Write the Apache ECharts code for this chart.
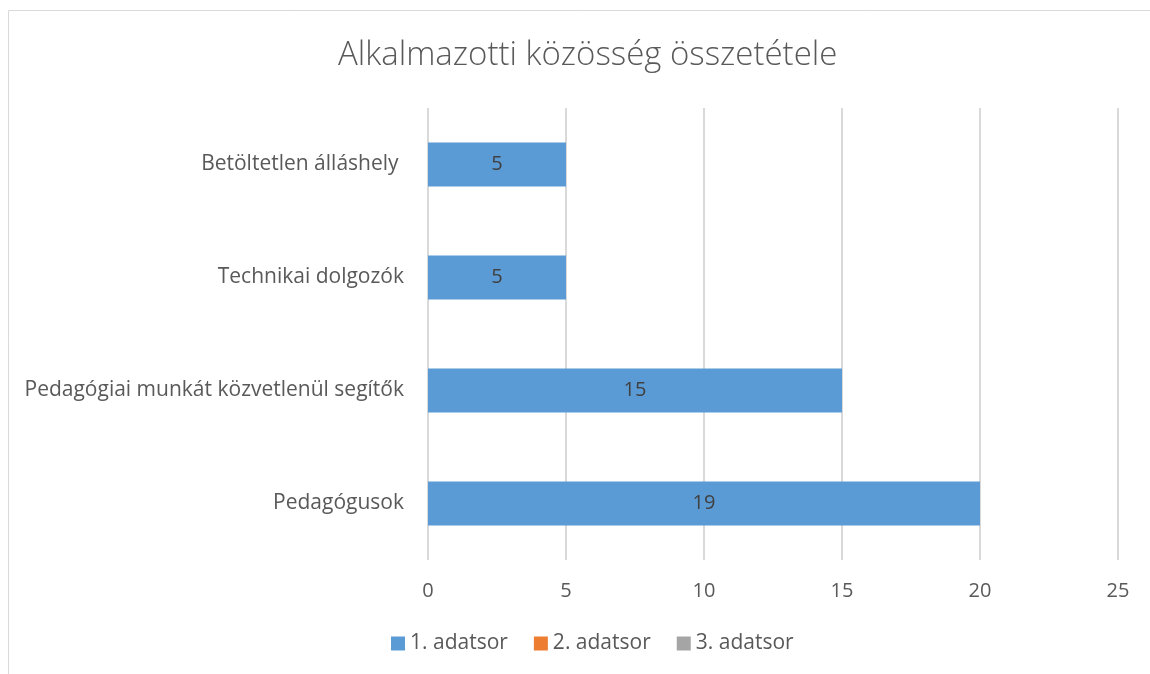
<!DOCTYPE html>
<html>
<head>
<meta charset="utf-8" />
<title>Alkalmazotti közösség összetétele</title>
<script src="https://cdn.jsdelivr.net/npm/echarts@6/dist/echarts.min.js"></script>
<style>
html, body { margin: 0; padding: 0; background: #fff; }
#chart { width: 1150px; height: 674px; }
</style>
</head>
<body>
<div id="chart"></div>
<script>
// categories listed bottom-to-top (category axis on y starts at bottom)
var categories = ['Pedagógusok', 'Pedagógiai munkát közvetlenül segítők', 'Technikai dolgozók', 'Betöltetlen álláshely '];
var values = [20, 15, 5, 5];
// the labels printed in the bars (first one reads 19 in the picture)
var valueLabels = ['19', '15', '5', '5'];
var seriesNames = ['1. adatsor', '2. adatsor', '3. adatsor'];
var seriesColors = ['#5b9bd5', '#ed7d31', '#a5a5a5'];
var xTicks = [0, 5, 10, 15, 20, 25];

var font = '"Open Sans", "Noto Sans", sans-serif';

var series = seriesNames.map(function (name, i) {
    return {
        name: name,
        type: 'bar',
        barWidth: 44,
        barGap: '-100%',
        itemStyle: { color: seriesColors[i] },
        data: i === 0 ? values : [],
        label: {
            show: i === 0,
            position: 'inside',
            color: '#404040',
            fontSize: 20,
            fontFamily: font,
            formatter: function (p) { return valueLabels[p.dataIndex]; }
        }
    };
});

var chart = echarts.init(document.getElementById('chart'));
chart.setOption({
    animation: false,
    graphic: [{
        type: 'rect',
        shape: { x: 8.5, y: 10.5, width: 1200, height: 700 },
        style: { fill: 'none', stroke: '#d9d9d9', lineWidth: 1 },
        silent: true,
        z: -10
    }],
    title: {
        text: 'Alkalmazotti közösség összetétele',
        left: 333,
        top: 34,
        textStyle: { color: '#595959', fontSize: 33, fontWeight: 300, fontFamily: font }
    },
    legend: {
        bottom: 15,
        left: 386,
        itemWidth: 14,
        itemHeight: 14,
        itemGap: 26,
        icon: 'rect',
        textStyle: { color: '#595959', fontSize: 21, fontFamily: font },
        data: seriesNames
    },
    grid: { left: 428, right: 32, top: 108, bottom: 114, containLabel: false },
    xAxis: {
        type: 'value',
        min: xTicks[0],
        max: xTicks[xTicks.length - 1],
        interval: 5,
        axisLine: { show: false },
        axisTick: { show: false },
        splitLine: { lineStyle: { color: '#d9d9d9', width: 2 } },
        axisLabel: { color: '#595959', fontSize: 20, fontFamily: font, margin: 21 }
    },
    yAxis: {
        type: 'category',
        data: categories,
        axisLine: { show: false },
        axisTick: { show: false },
        axisLabel: { color: '#595959', fontSize: 21, fontFamily: font, margin: 24 }
    },
    series: series
});
</script>
</body>
</html>
